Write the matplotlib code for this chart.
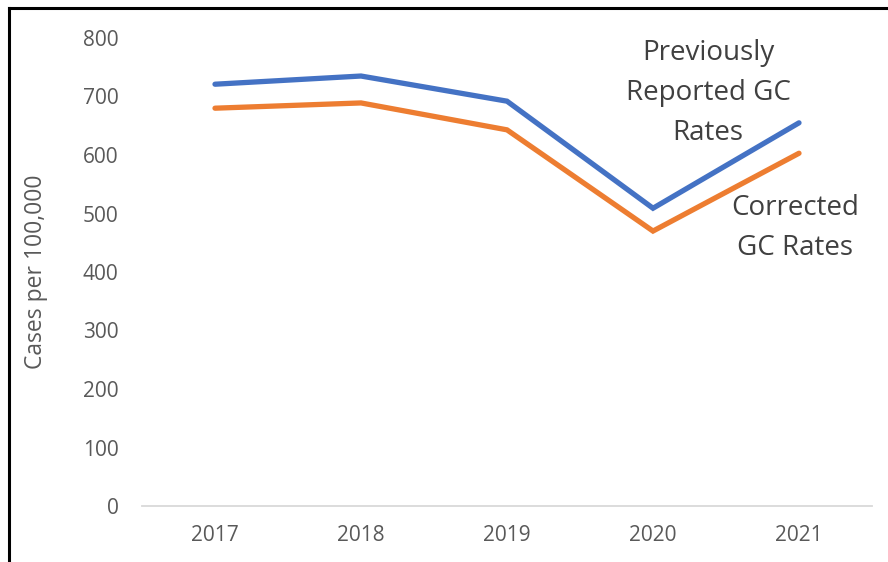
import matplotlib
matplotlib.use("Agg")
import matplotlib.pyplot as plt
from matplotlib.lines import Line2D

years = ["2017", "2018", "2019", "2020", "2021"]
previously_reported = [721, 735, 692, 509, 655]
corrected = [680, 689, 643, 470, 603]
y_ticks = [0, 100, 200, 300, 400, 500, 600, 700, 800]

plt.rcParams['font.family'] = ['Open Sans', 'DejaVu Sans']

fig = plt.figure(figsize=(8.88, 5.62), dpi=100)
ax = fig.add_axes([142/888, 1-506/562, (872-142)/888, (506-38)/562])

x = list(range(len(years)))
ax.plot(x, previously_reported, color="#4472C4", lw=3.8, solid_capstyle='round', solid_joinstyle='miter')
ax.plot(x, corrected, color="#ED7D31", lw=3.8, solid_capstyle='round', solid_joinstyle='miter')

ax.set_xlim(-0.5, len(years) - 0.5)
ax.set_ylim(0, 800)
ax.set_xticks(x)
ax.set_xticklabels(years)
ax.set_yticks(y_ticks)
ax.set_yticklabels([str(v) for v in y_ticks])

for s in ["top", "right", "left"]:
    ax.spines[s].set_visible(False)
ax.spines["bottom"].set_color("#d9d9d9")
ax.spines["bottom"].set_linewidth(1.3)
ax.tick_params(axis='both', length=0, labelsize=15, colors="#595959")
ax.tick_params(axis='y', pad=17)
ax.tick_params(axis='x', pad=14)
ax.set_ylabel("Cases per 100,000", fontsize=16.5, color="#595959")
ax.yaxis.set_label_coords(-0.129, 0.5)

fig.text(708/888, 1-93/562, "Previously\nReported GC\nRates", ha="center", va="center",
         fontsize=20, color="#404040", linespacing=1.55)
fig.text(795/888, 1-228/562, "Corrected\nGC Rates", ha="center", va="center",
         fontsize=20, color="#404040", linespacing=1.55)

# outer border (left and top)
fig.add_artist(Line2D([9/888, 9/888], [0, 1-8/562], transform=fig.transFigure, color="black", lw=2.2))
fig.add_artist(Line2D([9/888, 1], [1-8/562, 1-8/562], transform=fig.transFigure, color="black", lw=2.2))

fig.savefig("out.png", dpi=100)
